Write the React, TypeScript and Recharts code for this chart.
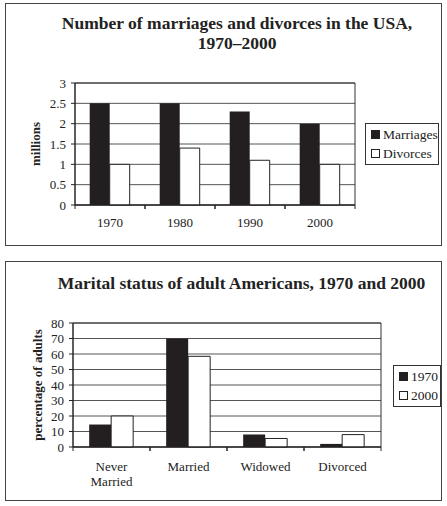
import React from 'react';
import { BarChart, Bar, XAxis, YAxis, CartesianGrid, ReferenceArea } from 'recharts';

// Number of marriages and divorces (millions)
const years = ['1970', '1980', '1990', '2000'];
const marriages = [2.5, 2.5, 2.3, 2.0];
const divorces = [1.0, 1.4, 1.1, 1.0];
const millionTicks = [0, 0.5, 1, 1.5, 2, 2.5, 3];

// Marital status of adult Americans (percentage of adults)
const statuses = ['Never Married', 'Married', 'Widowed', 'Divorced'];
const status1970 = [14.5, 70, 8, 2];
const status2000 = [20, 58.5, 5.5, 8];
const percentTicks = [0, 10, 20, 30, 40, 50, 60, 70, 80];

const FONT = '"Liberation Serif", "Times New Roman", "DejaVu Serif", serif';
const DARK = '#231f20';

const countData = years.map((y, i) => ({ name: y, Marriages: marriages[i], Divorces: divorces[i] }));
const statusData = statuses.map((s, i) => ({ name: s, '1970': status1970[i], '2000': status2000[i] }));

type TickProps = { x?: number; y?: number; payload?: { value: string }; band: number; baseline: number };

// Category label plus short tick marks at the category boundaries
const CategoryTick = ({ x = 0, y = 0, payload, band, baseline }: TickProps) => {
  const value = String(payload?.value ?? '');
  const lines = value.startsWith('Never ') ? ['Never', value.slice(6)] : [value];
  return (
    <g>
      <line x1={x - band / 2} x2={x - band / 2} y1={y} y2={y + 4} stroke="#222" strokeWidth={1} />
      <line x1={x + band / 2} x2={x + band / 2} y1={y} y2={y + 4} stroke="#222" strokeWidth={1} />
      {lines.map((l, i) => (
        <text key={i} x={x} y={y + baseline + i * 15} textAnchor="middle" fontFamily={FONT} fontSize={13} fill="#222">
          {l}
        </text>
      ))}
    </g>
  );
};

type LegendItem = { label: string; fill: string };
const LegendBox = ({ items, left, top, width }: { items: LegendItem[]; left: number; top: number; width: number }) => (
  <div
    style={{
      position: 'absolute',
      left,
      top,
      border: '1px solid #333',
      width,
      padding: '1px 0 1px 5px',
      boxSizing: 'border-box',
      fontFamily: FONT,
      fontSize: 13.5,
      color: '#222',
      background: '#fff',
    }}
  >
    {items.map((it) => (
      <div key={it.label} style={{ display: 'flex', alignItems: 'center', height: 19 }}>
        <span
          style={{
            display: 'inline-block',
            width: 7,
            height: 7,
            background: it.fill,
            border: '1px solid #222',
            marginRight: 3,
          }}
        />
        <span>{it.label}</span>
      </div>
    ))}
  </div>
);

const panelStyle = (top: number, height: number): React.CSSProperties => ({
  position: 'absolute',
  left: 5,
  top,
  width: 437,
  height,
  border: '1.5px solid #444',
  boxSizing: 'border-box',
});

const titleStyle: React.CSSProperties = {
  position: 'absolute',
  fontFamily: FONT,
  fontWeight: 'bold',
  fontSize: 17.5,
  color: '#222',
  textAlign: 'center',
  lineHeight: '20px',
  whiteSpace: 'nowrap',
};

export default function App() {
  const topBand = (355 - 75) / years.length;
  const botBand = (381 - 73) / statuses.length;
  return (
    <div style={{ position: 'absolute', left: 0, top: 0, width: 447, height: 506, background: '#fff' }}>
      <div style={panelStyle(3, 243)} />
      <div style={panelStyle(261, 240)} />

      <div style={{ ...titleStyle, left: 0, width: 474, top: 13 }}>
        Number of marriages and divorces in the USA,
        <br />
        1970–2000
      </div>
      <div style={{ ...titleStyle, left: 0, width: 483, top: 273 }}>Marital status of adult Americans, 1970 and 2000</div>

      {/* Top chart */}
      <div style={{ position: 'absolute', left: 0, top: 0 }}>
        <BarChart
          width={447}
          height={250}
          data={countData}
          margin={{ top: 83, right: 92, left: 45, bottom: 15 }}
          barCategoryGap="21%"
          barGap={0}
        >
          <CartesianGrid vertical={false} stroke="#555" strokeWidth={1} />
          <ReferenceArea y1={0} y2={3} fill="none" stroke="#333" strokeWidth={1} />
          <XAxis
            dataKey="name"
            stroke="#222"
            tickLine={false}
            tickSize={0}
            tickMargin={0}
            height={30}
            interval={0}
            tick={(p: any) => <CategoryTick {...p} band={topBand} baseline={22} />}
          />
          <YAxis
            domain={[0, 3]}
            ticks={millionTicks}
            interval={0}
            width={30}
            stroke="#222"
            tickSize={4}
            tickMargin={5}
            tick={{ fontFamily: FONT, fontSize: 13, fill: '#222' }}
            label={{
              value: 'millions',
              angle: -90,
              position: 'insideLeft',
              offset: -10,
              style: { fontFamily: FONT, fontWeight: 'bold', fontSize: 13, fill: '#222', textAnchor: 'middle' },
            }}
          />
          <Bar dataKey="Marriages" fill={DARK} isAnimationActive={false} />
          <Bar dataKey="Divorces" fill="#fff" stroke="#222" strokeWidth={1} isAnimationActive={false} />
        </BarChart>
      </div>
      <LegendBox
        left={365}
        top={123}
        width={74}
        items={[
          { label: 'Marriages', fill: DARK },
          { label: 'Divorces', fill: '#fff' },
        ]}
      />

      {/* Bottom chart */}
      <div style={{ position: 'absolute', left: 0, top: 255 }}>
        <BarChart
          width={447}
          height={251}
          data={statusData}
          margin={{ top: 68, right: 66, left: 43, bottom: 19 }}
          barCategoryGap="21%"
          barGap={0}
        >
          <CartesianGrid vertical={false} stroke="#555" strokeWidth={1} />
          <ReferenceArea y1={0} y2={80} fill="none" stroke="#333" strokeWidth={1} />
          <XAxis
            dataKey="name"
            stroke="#222"
            tickLine={false}
            tickSize={0}
            tickMargin={0}
            height={40}
            interval={0}
            tick={(p: any) => <CategoryTick {...p} band={botBand} baseline={24} />}
          />
          <YAxis
            domain={[0, 80]}
            ticks={percentTicks}
            interval={0}
            width={30}
            stroke="#222"
            tickSize={4}
            tickMargin={5}
            tick={{ fontFamily: FONT, fontSize: 13, fill: '#222' }}
            label={{
              value: 'percentage of adults',
              angle: -90,
              position: 'insideLeft',
              offset: -6,
              style: { fontFamily: FONT, fontWeight: 'bold', fontSize: 13, fill: '#222', textAnchor: 'middle' },
            }}
          />
          <Bar dataKey="1970" fill={DARK} isAnimationActive={false} />
          <Bar dataKey="2000" fill="#fff" stroke="#222" strokeWidth={1} isAnimationActive={false} />
        </BarChart>
      </div>
      <LegendBox
        left={393}
        top={365}
        width={48}
        items={[
          { label: '1970', fill: DARK },
          { label: '2000', fill: '#fff' },
        ]}
      />
    </div>
  );
}
